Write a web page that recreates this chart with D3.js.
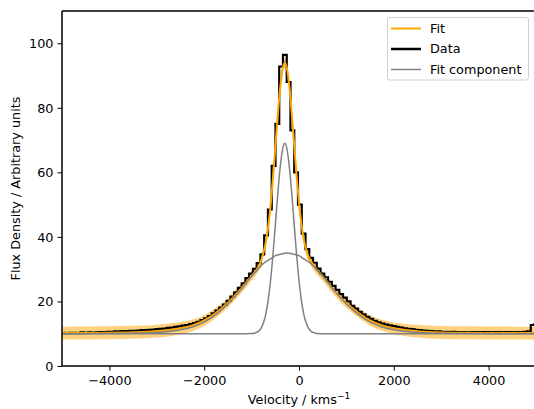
<!DOCTYPE html>
<html>
<head>
<meta charset="utf-8">
<script src="https://cdn.jsdelivr.net/npm/d3@7"></script>
<style>
  body { margin: 0; background: #fff; }
  svg { font-family: "DejaVu Sans", sans-serif; }
</style>
</head>
<body>
<div id="chart"></div>
<script>
// histogram bins (km/s): first bin edge and width
const binStart = -5010.8;
const binWidth = 79.2;
const dataFlux = [
  10.3, 10.2, 10.3, 10.3, 10.2, 10.4, 10.3, 10.4, 10.3, 10.4,
  10.5, 10.5, 10.6, 10.6, 10.7, 10.7, 10.8, 10.8, 10.9, 10.9,
  11.0, 11.1, 11.1, 11.2, 11.3, 11.4, 11.5, 11.6, 11.8, 11.9,
  12.1, 12.3, 12.5, 12.7, 13.0, 13.3, 13.7, 14.2, 14.8, 15.5,
  16.3, 17.2, 18.1, 19.0, 20.2, 21.5, 22.8, 24.2, 25.6, 27.2,
  28.6, 30.1, 31.9, 34.6, 40.5, 48.5, 62.0, 75.0, 92.8, 96.4,
  88.0, 73.0, 60.0, 50.0, 41.0, 36.2, 33.5, 32.0, 30.2, 28.6,
  27.5, 26.1, 24.8, 23.6, 22.3, 21.2, 20.0, 18.6, 17.8, 16.8,
  16.0, 15.2, 14.6, 14.0, 13.5, 13.1, 12.8, 12.6, 12.4, 12.1,
  11.9, 11.7, 11.5, 11.4, 11.2, 11.1, 11.0, 10.9, 10.8, 10.7,
  10.7, 10.6, 10.6, 10.5, 10.6, 10.5, 10.5, 10.5, 10.4, 10.5,
  10.5, 10.4, 10.5, 10.5, 10.4, 10.5, 10.5, 10.4, 10.5, 10.5,
  10.4, 10.5, 10.5, 10.6, 10.7, 12.7, 13.0
];

// model curves sampled at these velocities
const curveV = [
  -5000, -4500, -4000, -3500, -3000, -2750, -2500, -2250, -2000, -1750,
  -1500, -1250, -1000, -900, -850, -800, -750, -700, -650, -600,
  -550, -500, -450, -400, -350, -300, -250, -200, -150, -100,
  -50, 0, 50, 100, 150, 200, 250, 300, 350, 400,
  500, 600, 750, 1000, 1250, 1500, 1750, 2000, 2250, 2500,
  2750, 3000, 3500, 4000, 4500, 5000
];
const fitFlux = [
  10.2, 10.25, 10.3, 10.45, 10.8, 11.15, 11.7, 12.6, 14.1, 16.5,
  19.6, 23.5, 27.9, 29.8, 31.0, 32.7, 35.2, 38.4, 43.2, 49.7,
  58.1, 67.7, 77.3, 85.8, 91.7, 93.95, 91.9, 86.15, 77.7, 68.1,
  58.8, 50.7, 44.1, 39.3, 36.2, 34.0, 32.6, 31.4, 30.35, 29.46,
  27.8, 26.0, 23.3, 19.5, 16.5, 14.1, 12.6, 11.7, 11.15, 10.8,
  10.55, 10.4, 10.3, 10.25, 10.2, 10.2
];
const fitErr = [
  2.0, 2.0, 2.0, 2.0, 2.0, 2.0, 1.9, 1.8, 1.7, 1.6,
  1.5, 1.5, 1.5, 1.5, 1.5, 1.5, 1.5, 1.5, 1.5, 1.5,
  1.5, 1.5, 1.5, 1.5, 1.5, 1.5, 1.5, 1.5, 1.5, 1.5,
  1.5, 1.5, 1.5, 1.5, 1.5, 1.5, 1.5, 1.5, 1.5, 1.5,
  1.5, 1.5, 1.5, 1.5, 1.5, 1.6, 1.7, 1.8, 1.9, 2.0,
  2.0, 2.0, 2.0, 2.0, 2.0, 2.0
];
const narrowFlux = [
  10, 10, 10, 10, 10, 10, 10, 10, 10, 10,
  10, 10, 10.06, 10.4, 10.8, 11.7, 13.4, 16.1, 20.4, 26.5,
  34.4, 43.5, 52.9, 61.2, 66.9, 69.0, 66.9, 61.2, 52.9, 43.5,
  34.4, 26.5, 20.4, 16.1, 13.4, 11.7, 10.8, 10.4, 10.15, 10.06,
  10, 10, 10, 10, 10, 10, 10, 10, 10, 10,
  10, 10, 10, 10, 10, 10
];
const broadFlux = [
  10.0, 10.03, 10.07, 10.17, 10.4, 10.7, 11.2, 12.1, 13.6, 16.0,
  19.2, 23.2, 27.8, 29.4, 30.2, 31.0, 31.8, 32.3, 32.8, 33.2,
  33.7, 34.2, 34.4, 34.6, 34.8, 34.95, 35.0, 34.95, 34.8, 34.6,
  34.4, 34.2, 33.7, 33.2, 32.8, 32.3, 31.8, 31.0, 30.2, 29.4,
  27.8, 26.0, 23.2, 19.2, 16.0, 13.6, 12.1, 11.2, 10.7, 10.4,
  10.25, 10.17, 10.07, 10.03, 10.0, 10.0
];

const xTicks = [-4000, -2000, 0, 2000, 4000];
const yTicks = [0, 20, 40, 60, 80, 100];

const W = 534, H = 409;
const m = { left: 62, top: 11, right: 536, bottom: 366 };
const fontSize = "12.8px";

const svg = d3.select("#chart").append("svg")
  .attr("width", W).attr("height", H);

const x = d3.scaleLinear().domain([-5000, 5000]).range([m.left, m.right]);
const y = d3.scaleLinear().domain([0, 110]).range([m.bottom, m.top]);

svg.append("clipPath").attr("id", "clip")
  .append("rect")
  .attr("x", m.left).attr("y", m.top)
  .attr("width", m.right - m.left).attr("height", m.bottom - m.top);

const plot = svg.append("g").attr("clip-path", "url(#clip)");

const curves = curveV.map((v, i) => ({
  v, fit: fitFlux[i], err: fitErr[i], n: narrowFlux[i], b: broadFlux[i]
}));

// uncertainty band
plot.append("path")
  .datum(curves)
  .attr("fill", "#ffa500")
  .attr("fill-opacity", 0.5)
  .attr("d", d3.area()
    .x(d => x(d.v))
    .y0(d => y(d.fit - d.err))
    .y1(d => y(d.fit + d.err))
    .curve(d3.curveMonotoneX));

// data as mid steps
const bins = dataFlux.map((f, i) => ({ v: binStart + binWidth * (i + 0.5), f }));
plot.append("path")
  .datum(bins)
  .attr("fill", "none")
  .attr("stroke", "#000")
  .attr("stroke-width", 2.2)
  .attr("d", d3.line().x(d => x(d.v)).y(d => y(d.f)).curve(d3.curveStep));

// fit
plot.append("path")
  .datum(curves)
  .attr("fill", "none")
  .attr("stroke", "#ffa500")
  .attr("stroke-width", 2)
  .attr("d", d3.line().x(d => x(d.v)).y(d => y(d.fit)).curve(d3.curveMonotoneX));

// fit components
["n", "b"].forEach(k => {
  plot.append("path")
    .datum(curves)
    .attr("fill", "none")
    .attr("stroke", "#808080")
    .attr("stroke-width", 1.5)
    .attr("d", d3.line().x(d => x(d.v)).y(d => y(d[k])).curve(d3.curveMonotoneX));
});

// axes
const xAxis = svg.append("g")
  .attr("transform", `translate(0,${m.bottom})`)
  .call(d3.axisBottom(x).tickValues(xTicks).tickSize(4.5).tickSizeOuter(0)
    .tickFormat(d => d < 0 ? "\u2212" + Math.abs(d) : d));
const yAxis = svg.append("g")
  .attr("transform", `translate(${m.left},0)`)
  .call(d3.axisLeft(y).tickValues(yTicks).tickSize(4.5).tickSizeOuter(0));

[xAxis, yAxis].forEach(g => {
  g.select(".domain").remove();
  g.selectAll("line").attr("stroke", "#000").attr("stroke-width", 1);
  g.selectAll("text").attr("fill", "#000")
    .style("font-size", fontSize).style("font-family", "DejaVu Sans");
});
xAxis.selectAll("text").attr("dy", null).attr("y", 19);
yAxis.selectAll("text").attr("x", -8.5).attr("dy", "0.35em");

// spines
[[m.left, m.top, m.left, m.bottom], [m.left, m.bottom, m.right, m.bottom],
 [m.left, m.top, m.right, m.top], [m.right, m.top, m.right, m.bottom]]
  .forEach(([x1, y1, x2, y2]) => {
    svg.append("line")
      .attr("x1", x1).attr("y1", y1).attr("x2", x2).attr("y2", y2)
      .attr("stroke", "#000").attr("stroke-width", 1.5);
  });

// labels
const xl = svg.append("text")
  .attr("x", 299).attr("y", 404)
  .attr("text-anchor", "middle")
  .style("font-size", fontSize)
  .text("Velocity / kms");
xl.append("tspan").attr("dy", -5).style("font-size", "9px").text("\u22121");

svg.append("text")
  .attr("transform", `translate(20,${(m.top + m.bottom) / 2}) rotate(-90)`)
  .attr("text-anchor", "middle")
  .style("font-size", fontSize)
  .text("Flux Density / Arbitrary units");

// legend
const legend = svg.append("g");
legend.append("rect")
  .attr("x", 387.5).attr("y", 17.5).attr("width", 141).attr("height", 62.5)
  .attr("rx", 2.5)
  .attr("fill", "#fff").attr("fill-opacity", 0.8)
  .attr("stroke", "#d0d0d0").attr("stroke-width", 1);
const entries = [
  { label: "Fit", color: "#ffa500", w: 2 },
  { label: "Data", color: "#000", w: 2.5 },
  { label: "Fit component", color: "#808080", w: 1.5 }
];
entries.forEach((e, i) => {
  const yy = 28.5 + i * 20.5;
  legend.append("line")
    .attr("x1", 391).attr("x2", 421).attr("y1", yy).attr("y2", yy)
    .attr("stroke", e.color).attr("stroke-width", e.w);
  legend.append("text")
    .attr("x", 430).attr("y", yy).attr("dy", "0.35em")
    .style("font-size", fontSize)
    .text(e.label);
});
</script>
</body>
</html>
